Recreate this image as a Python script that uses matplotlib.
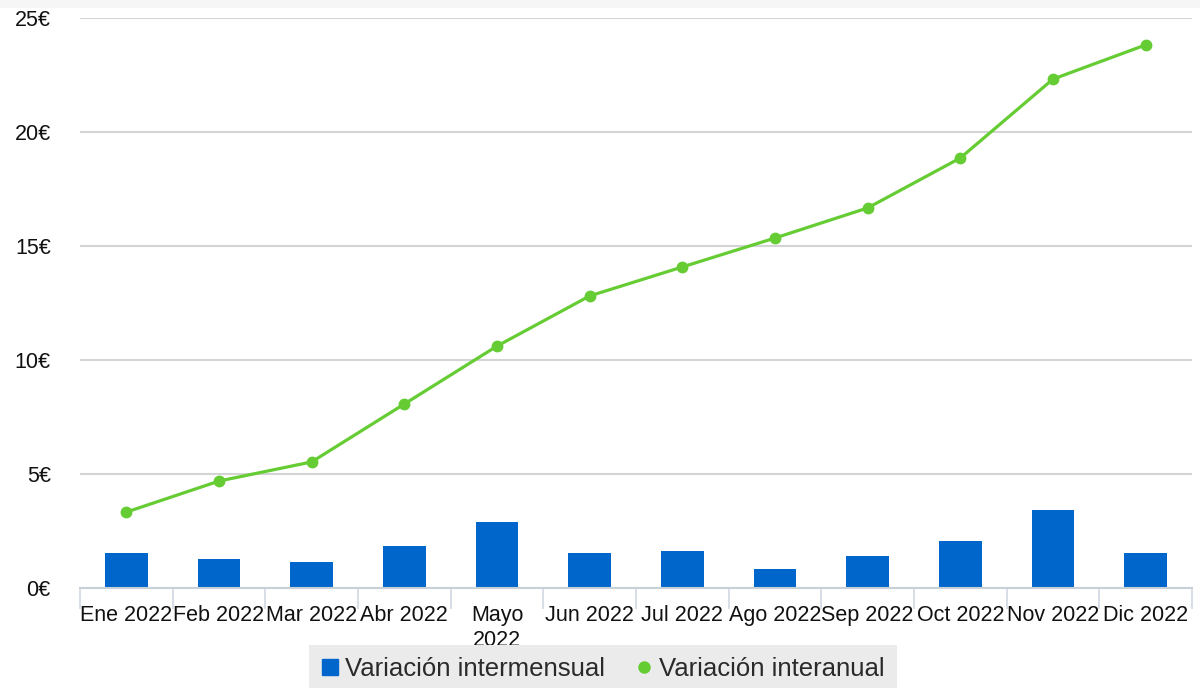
import matplotlib
matplotlib.use("Agg")
import matplotlib.pyplot as plt
from matplotlib.lines import Line2D
from matplotlib.patches import Rectangle
import numpy as np

plt.rcParams['font.family'] = ['Liberation Sans', 'DejaVu Sans']

categories = ["Ene 2022", "Feb 2022", "Mar 2022", "Abr 2022", "Mayo\n2022", "Jun 2022",
              "Jul 2022", "Ago 2022", "Sep 2022", "Oct 2022", "Nov 2022", "Dic 2022"]
intermensual = [1.54, 1.27, 1.14, 1.84, 2.89, 1.54, 1.62, 0.83, 1.40, 2.06, 3.42, 1.54]
interanual = [3.33, 4.69, 5.53, 8.07, 10.61, 12.81, 14.08, 15.35, 16.67, 18.86, 22.32, 23.82]
yticks = [0, 5, 10, 15, 20, 25]
ytick_labels = ["0€", "5€", "10€", "15€", "20€", "25€"]

bar_color = "#0066CC"
line_color = "#66CC33"

fig = plt.figure(figsize=(12, 6.88), dpi=100)
ax = fig.add_axes([80/1200, 1 - 588/688, 1112/1200, 570/688])

# faint strip at top
fig.patches.append(Rectangle((0, 1 - 8/688), 1, 8/688, transform=fig.transFigure,
                             facecolor="#f6f6f6", edgecolor="none", zorder=0))

x = np.arange(len(categories))
ax.bar(x, intermensual, width=0.46, color=bar_color, zorder=3)
ax.plot(x, interanual, color=line_color, lw=2.3, marker="o", markersize=7.5, zorder=4)

ax.set_xlim(-0.5, len(categories) - 0.5)
ax.set_ylim(0, 25)
ax.set_yticks(yticks)
ax.set_yticklabels(ytick_labels, fontsize=15.5, color="#111111")
ax.tick_params(axis="y", length=0, pad=21)
for t in ax.get_yticklabels():
    t.set_horizontalalignment("right")
    t.set_verticalalignment("center_baseline")

ax.set_xticks(x)
ax.set_xticklabels(categories, fontsize=15.5, color="#111111", linespacing=1.25)
ax.tick_params(axis="x", which="major", length=0, pad=12)
ax.set_xticks(np.arange(-0.5, len(categories)), minor=True)
ax.tick_params(axis="x", which="minor", length=15, width=1.2, color="#d0d8e0")

ax.grid(axis="y", color="#d4d4d4", lw=1.5, zorder=0)
for s in ["top", "right", "left"]:
    ax.spines[s].set_visible(False)
ax.spines["bottom"].set_color("#c8d0d8")
ax.spines["bottom"].set_linewidth(1.5)
ax.spines["bottom"].set_zorder(5)

handles = [
    Line2D([0], [0], marker="s", color="none", markerfacecolor=bar_color,
           markeredgecolor=bar_color, markersize=11.5, label="Variación intermensual"),
    Line2D([0], [0], marker="o", color="none", markerfacecolor=line_color,
           markeredgecolor=line_color, markersize=8, label="Variación interanual"),
]
leg = fig.legend(handles=handles, loc="center", bbox_to_anchor=(603/1200, 1 - 669/688),
                 ncol=2, frameon=True, fontsize=18.5, handlelength=0.7, handletextpad=0.25,
                 columnspacing=1.15, borderpad=0.45, borderaxespad=0, fancybox=False)
leg.get_frame().set_facecolor("#ebebeb")
leg.get_frame().set_edgecolor("none")
leg.get_frame().set_alpha(1)
for t in leg.get_texts():
    t.set_color("#2a2a2a")

fig.savefig("out.png", dpi=100, facecolor="white")
